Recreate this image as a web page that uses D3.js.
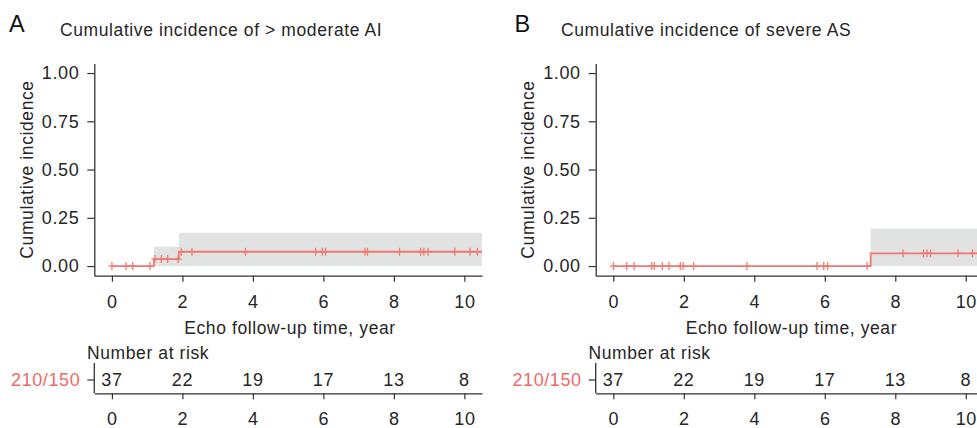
<!DOCTYPE html>
<html><head><meta charset="utf-8">
<script src="https://cdn.jsdelivr.net/npm/d3@7"></script>
<style>
body{margin:0;background:#fff;}
svg text{font-family:"Liberation Sans",Arial,Helvetica,sans-serif;fill:#262626;letter-spacing:0.6px;}
</style></head>
<body><svg id="c" width="977" height="428"></svg>
<script>
// ---------- data ----------
const panelLetters = ["A", "B"];
const panelTitles = ["Cumulative incidence of > moderate AI", "Cumulative incidence of severe AS"];
const yTicks = [0, 0.25, 0.5, 0.75, 1];
const xTicks = [0, 2, 4, 6, 8, 10];
const riskTimes = [0, 2, 4, 6, 8, 10];
const riskCounts = [37, 22, 19, 17, 13, 8];
const riskLabel = "210/150";
// Panel A step curve (time, cumulative incidence)
const stepA = [[0, 0], [1.19, 0.036], [1.9, 0.074], [10.5, 0.074]];
const bandA = [[1.19, 0, 0.10], [1.9, 0, 0.172], [10.5, 0, 0.172]];
const censorA = [0, 0.4, 0.59, 1.08, 1.22, 1.4, 1.58, 1.88, 1.97, 2.27, 3.79, 5.78, 5.97, 6.06, 7.18, 7.25, 8.16, 8.76, 8.85, 8.97, 9.73, 10.16, 10.37];
// Panel B step curve
const stepB = [[0, 0], [7.3, 0.066], [10.5, 0.066]];
const bandB = [[7.3, 0, 0.195], [10.5, 0, 0.195]];
const censorB = [0, 0.38, 0.59, 1.09, 1.16, 1.39, 1.58, 1.9, 1.98, 2.28, 3.79, 5.78, 5.97, 6.08, 7.2, 8.22, 8.8, 8.9, 9.0, 9.78, 10.19, 10.37];

const panels = [
  {off: 0, step: stepA, band: bandA, censor: censorA},
  {off: 501.4, step: stepB, band: bandB, censor: censorB}
];

const svg = d3.select("#c");
const lineCol = "#F07A72", axisCol = "#333333", bandCol = "#E1E2E2", riskCol = "#EE6A66";
const fs = 18;
const tfs = "17.5px";

function valueAt(step, t) {
  let v = 0;
  for (const s of step) if (s[0] <= t) v = s[1];
  return v;
}

panels.forEach((p, i) => {
  const g = svg.append("g").attr("transform", `translate(${p.off},0)`);
  const x = d3.scaleLinear().domain([-0.5, 10.5]).range([94.3, 482]);
  const y = d3.scaleLinear().domain([-0.05, 1.05]).range([275.7, 63.4]);

  // letter + title
  g.append("text").attr("x", i === 0 ? 9 : 13).attr("y", 32).style("font-size", "23.5px").style("letter-spacing", "0px").style("fill", "#111").text(panelLetters[i]);
  g.append("text").attr("x", i === 0 ? 60 : 59.6).attr("y", 35.5).style("font-size", tfs).text(panelTitles[i]);

  // band
  const area = d3.area().curve(d3.curveStepAfter).x(d => x(d[0])).y0(d => y(d[1])).y1(d => y(d[2]));
  g.append("path").datum(p.band).attr("d", area).attr("fill", bandCol);

  // step line
  const line = d3.line().curve(d3.curveStepAfter).x(d => x(d[0])).y(d => y(d[1]));
  g.append("path").datum(p.step).attr("d", line).attr("fill", "none").attr("stroke", lineCol).attr("stroke-width", 1.8);

  // censor marks
  const cm = g.append("g").attr("stroke", lineCol).attr("stroke-width", 1.3);
  p.censor.forEach(t => {
    const cx = x(t), cy = y(valueAt(p.step, t));
    cm.append("line").attr("x1", cx).attr("x2", cx).attr("y1", cy - 4).attr("y2", cy + 4);
    cm.append("line").attr("x1", cx - 3.5).attr("x2", cx + 3.5).attr("y1", cy).attr("y2", cy);
  });

  // axes
  const ya = g.append("g").attr("transform", "translate(94.3,0)")
    .call(d3.axisLeft(y).tickValues(yTicks).tickFormat(d3.format(".2f")).tickSize(7).tickPadding(8).tickSizeOuter(0));
  const xa = g.append("g").attr("transform", "translate(0,275.7)")
    .call(d3.axisBottom(x).tickValues(xTicks).tickSize(6).tickPadding(13.5).tickSizeOuter(0));
  [ya, xa].forEach(a => {
    a.select(".domain").attr("stroke", axisCol).attr("stroke-width", 1.3);
    a.selectAll(".tick line").attr("stroke", axisCol).attr("stroke-width", 1.2);
    a.selectAll(".tick text").style("font-size", fs + "px").style("font-family", "Liberation Sans, Arial, sans-serif").attr("fill", "#262626");
  });

  // axis titles
  g.append("text").attr("transform", "translate(33,169.5) rotate(-90)").attr("text-anchor", "middle").style("font-size", tfs).text("Cumulative incidence");
  g.append("text").attr("x", 290).attr("y", 334).attr("text-anchor", "middle").style("font-size", tfs).text("Echo follow-up time, year");

  // risk table
  g.append("text").attr("x", 87).attr("y", 359).style("font-size", tfs).text("Number at risk");
  const ry = d3.scalePoint().domain([riskLabel]).range([380, 380]);
  const rya = g.append("g").attr("transform", "translate(94.3,0)");
  rya.append("line").attr("x1", 0).attr("x2", 0).attr("y1", 363).attr("y2", 393.3).attr("stroke", axisCol).attr("stroke-width", 1.3);
  rya.append("line").attr("x1", -7).attr("x2", 0).attr("y1", ry(riskLabel)).attr("y2", ry(riskLabel)).attr("stroke", axisCol).attr("stroke-width", 1.2);
  rya.append("text").attr("x", -14).attr("y", ry(riskLabel)).attr("dy", "0.36em").attr("text-anchor", "end").style("font-size", fs + "px").style("fill", riskCol).text(riskLabel);

  const rxa = g.append("g").attr("transform", "translate(0,393.3)")
    .call(d3.axisBottom(x).tickValues(xTicks).tickSize(6).tickPadding(12.5).tickSizeOuter(0));
  rxa.select(".domain").attr("stroke", axisCol).attr("stroke-width", 1.3);
  rxa.selectAll(".tick line").attr("stroke", axisCol).attr("stroke-width", 1.2);
  rxa.selectAll(".tick text").style("font-size", fs + "px").style("font-family", "Liberation Sans, Arial, sans-serif").attr("fill", "#262626");

  g.selectAll(".risknum").data(riskTimes).enter().append("text")
    .attr("x", d => x(d)).attr("y", ry(riskLabel)).attr("dy", "0.36em").attr("text-anchor", "middle")
    .style("font-size", fs + "px").text((d, k) => riskCounts[k]);
});
</script></body></html>
